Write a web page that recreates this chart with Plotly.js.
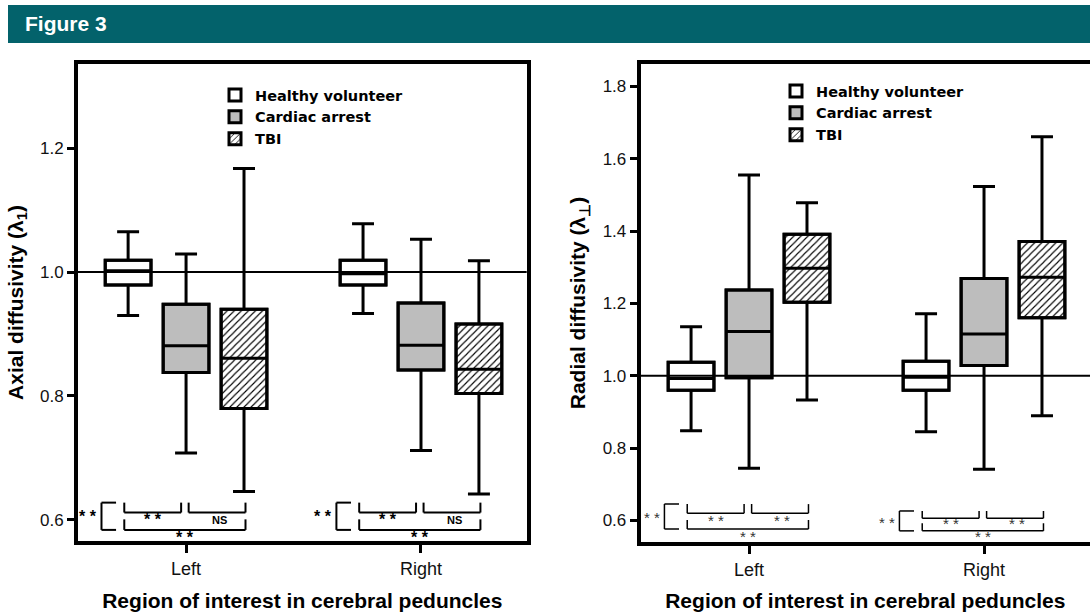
<!DOCTYPE html>
<html>
<head>
<meta charset="utf-8">
<script src="https://cdn.plot.ly/plotly-3.0.1.min.js"></script>
<style>html,body{margin:0;padding:0;background:#fff;}#chart{width:1090px;height:612px;}</style>
</head>
<body>
<div id="chart"></div>
<script>
// ---- data ----
const regions = ['Left', 'Right'];
const groups = ['Healthy volunteer', 'Cardiac arrest', 'TBI'];

// Axial diffusivity (lambda 1)
const axialLower  = [[0.930, 0.933], [0.708, 0.712], [0.646, 0.642]];
const axialQ1     = [[0.979, 0.979], [0.838, 0.842], [0.780, 0.804]];
const axialMedian = [[1.002, 0.997], [0.881, 0.882], [0.861, 0.843]];
const axialQ3     = [[1.019, 1.019], [0.948, 0.950], [0.940, 0.916]];
const axialUpper  = [[1.065, 1.078], [1.029, 1.053], [1.167, 1.018]];

// Radial diffusivity (lambda perpendicular)
const radialLower  = [[0.848, 0.845], [0.744, 0.741], [0.933, 0.889]];
const radialQ1     = [[0.960, 0.960], [0.994, 1.028], [1.203, 1.160]];
const radialMedian = [[0.992, 0.996], [1.122, 1.115], [1.297, 1.272]];
const radialQ3     = [[1.037, 1.040], [1.237, 1.269], [1.391, 1.371]];
const radialUpper  = [[1.135, 1.171], [1.555, 1.523], [1.478, 1.661]];

const axialTicks  = [0.6, 0.8, 1.0, 1.2];
const radialTicks = [0.6, 0.8, 1.0, 1.2, 1.4, 1.6, 1.8];

// significance labels per region: [healthy vs cardiac, cardiac vs TBI, healthy vs TBI, overall]
const axialSig  = [['**', 'NS', '**', '**'], ['**', 'NS', '**', '**']];
const radialSig = [['**', '**', '**', '**'], ['**', '**', '**', '**']];

// ---- styles ----
const fills = ['#ffffff', '#bdbdbd', '#ffffff'];
const patterns = ['', '', '/'];

const traces = [];
function addSet(lo, q1, med, q3, up, xa, ya, legendId) {
  for (let g = 0; g < 3; g++) {
    traces.push({
      type: 'bar', x: regions, base: q1[g],
      y: q3[g].map((v, i) => v - q1[g][i]),
      name: groups[g], xaxis: xa, yaxis: ya, legend: legendId,
      offsetgroup: 'g' + g, alignmentgroup: 'bar' + xa,
      marker: {
        color: fills[g],
        line: {color: '#000', width: 3},
        pattern: {shape: patterns[g], fgcolor: '#000', bgcolor: '#fff', size: 5, solidity: 0.22}
      },
      hoverinfo: 'skip'
    });
  }
  for (let g = 0; g < 3; g++) {
    traces.push({
      type: 'box', x: regions, q1: q1[g], median: med[g], q3: q3[g],
      lowerfence: lo[g], upperfence: up[g],
      xaxis: xa, yaxis: ya, showlegend: false, boxpoints: false,
      offsetgroup: 'g' + g, alignmentgroup: 'box' + xa,
      fillcolor: 'rgba(0,0,0,0)', line: {color: '#000', width: 3},
      whiskerwidth: 0.48, name: groups[g]
    });
  }
}
addSet(axialLower, axialQ1, axialMedian, axialQ3, axialUpper, 'x', 'y', 'legend');
addSet(radialLower, radialQ1, radialMedian, radialQ3, radialUpper, 'x2', 'y2', 'legend2');

const W = 1090, H = 612;
const px = v => v / W, py = v => 1 - v / H;

const shapes = [
  {type: 'rect', xref: 'paper', yref: 'paper', x0: px(8), x1: 1, y0: py(43), y1: py(5),
   fillcolor: '#03626b', line: {width: 0}, layer: 'below'},
  {type: 'line', xref: 'x domain', yref: 'y', x0: 0, x1: 1, y0: 1.0, y1: 1.0,
   line: {color: '#000', width: 2}, layer: 'above'},
  {type: 'line', xref: 'x2 domain', yref: 'y2', x0: 0, x1: 1, y0: 1.0, y1: 1.0,
   line: {color: '#000', width: 2}, layer: 'above'}
];
const annotations = [
  {xref: 'paper', yref: 'paper', x: px(23), y: py(24), xanchor: 'left', yanchor: 'middle',
   text: '<b>Figure 3</b>', showarrow: false,
   font: {family: 'Liberation Sans, Arial, sans-serif', size: 21, color: '#fff'}}
];

// bracket geometry, x offsets in category units
const OFF = {b1: [-0.263, -0.021], b2: [0.011, 0.253], lb: [-0.360, -0.298],
             l1: -0.142, l2: 0.142, l3: -0.005, l4: -0.37};
function brackets(xa, ya, ci, lv, sig, lw, fcolor, fweight, fsize) {
  const ln = (x0, y0, x1, y1) => shapes.push({type: 'line', xref: xa, yref: ya,
      x0: ci + x0, x1: ci + x1, y0: y0, y1: y1, line: {color: '#000', width: lw}});
  [OFF.b1, OFF.b2].forEach(b => {
    ln(b[0], lv.top, b[0], lv.h1);
    ln(b[0], lv.h1, b[1], lv.h1);
    ln(b[1], lv.h1, b[1], lv.top);
  });
  ln(OFF.b1[0], lv.t2, OFF.b1[0], lv.h2);
  ln(OFF.b1[0], lv.h2, OFF.b2[1], lv.h2);
  ln(OFF.b2[1], lv.h2, OFF.b2[1], lv.t2);
  ln(OFF.lb[0], lv.top, OFF.lb[0], lv.h2);
  ln(OFF.lb[0], lv.top, OFF.lb[1], lv.top);
  ln(OFF.lb[0], lv.h2, OFF.lb[1], lv.h2);
  const lab = (x, y, t, anchor, size) => annotations.push({xref: xa, yref: ya, x: ci + x, y: y,
      text: t, showarrow: false, xanchor: anchor, yanchor: 'middle',
      font: {family: 'Arial, Liberation Sans, sans-serif', size: size, color: fcolor, weight: fweight}});
  const t = s => s === '**' ? '* *' : s;
  const sz = s => s === '**' ? fsize : 11;
  lab(OFF.l1, lv.r1, t(sig[0]), 'center', sz(sig[0]));
  lab(OFF.l2, lv.r1, t(sig[1]), 'center', sz(sig[1]));
  lab(OFF.l3, lv.r2, t(sig[2]), 'center', sz(sig[2]));
  lab(OFF.l4, lv.rl, t(sig[3]), 'right', sz(sig[3]));
}
const axLv = {top: 0.628, h1: 0.612, t2: 0.601, h2: 0.584, r1: 0.600, r2: 0.571, rl: 0.606};
brackets('x', 'y', 0, axLv, axialSig[0], 2, '#000', 'bold', 16);
brackets('x', 'y', 1, axLv, axialSig[1], 2, '#000', 'bold', 16);
brackets('x2', 'y2', 0, {top: 0.645, h1: 0.620, t2: 0.601, h2: 0.576, r1: 0.599, r2: 0.556, rl: 0.608},
         radialSig[0], 1.5, '#333', 'normal', 15);
brackets('x2', 'y2', 1, {top: 0.626, h1: 0.606, t2: 0.592, h2: 0.571, r1: 0.591, r2: 0.556, rl: 0.594},
         radialSig[1], 1.5, '#333', 'normal', 15);

const tickFont = {family: 'Arial, Liberation Sans, sans-serif', size: 17, color: '#111'};
const xTickFont = {family: 'Arial, Liberation Sans, sans-serif', size: 18, color: '#111'};
const titleFont = {family: 'Arial, Liberation Sans, sans-serif', size: 21, color: '#000', weight: 'bold'};
const xTitle = {text: 'Region of interest in cerebral peduncles', font: titleFont, standoff: 20};

function xAxis(domain, range, anchor) {
  return {domain: domain, anchor: anchor, type: 'category', categoryarray: regions, range: range,
    showline: true, linewidth: 4, linecolor: '#000',
    mirror: true, ticks: 'outside', ticklen: 8, tickwidth: 3, tickcolor: '#000',
    tickfont: xTickFont, showgrid: false, zeroline: false, title: xTitle, fixedrange: true};
}
function yAxis(domain, range, tickv, titleText, anchor, mirror) {
  return {domain: domain, range: range, anchor: anchor, showline: true, linewidth: 4, linecolor: '#000',
    mirror: mirror, ticks: 'outside', ticklen: 7, tickwidth: 3, tickcolor: '#000',
    tickvals: tickv, ticktext: tickv.map(v => v.toFixed(1)), tickfont: tickFont,
    showgrid: false, zeroline: false, fixedrange: true,
    title: {text: titleText, font: titleFont, standoff: 12}};
}

const legendFont = {family: 'DejaVu Sans, Verdana, sans-serif', size: 14.5, color: '#000', weight: 'bold'};
const layout = {
  width: W, height: H,
  margin: {l: 0, r: 0, t: 0, b: 0},
  paper_bgcolor: '#fff', plot_bgcolor: '#fff',
  barmode: 'group', bargap: 0.26, bargroupgap: 0.21,
  boxmode: 'group', boxgap: 0.26, boxgroupgap: 0.21,
  xaxis: xAxis([px(78), px(526.7)], [-0.46, 1.45], 'y'),
  yaxis: yAxis([py(541), py(64)], [0.5661, 1.3355], axialTicks, 'Axial diffusivity (λ<sub>1</sub>)', 'x', true),
  xaxis2: xAxis([px(640.7), 1], [-0.461, 1.451], 'y2'),
  yaxis2: yAxis([py(542), py(64)], [0.5402, 1.8618], radialTicks, 'Radial diffusivity (λ<sub>⊥</sub>)', 'x2', false),
  legend: {x: px(215), y: py(79), xanchor: 'left', yanchor: 'top', bgcolor: 'rgba(0,0,0,0)',
           font: legendFont, traceorder: 'normal'},
  legend2: {x: px(776), y: py(75), xanchor: 'left', yanchor: 'top', bgcolor: 'rgba(0,0,0,0)',
           font: legendFont, traceorder: 'normal'},
  shapes: shapes,
  annotations: annotations,
  showlegend: true
};

Plotly.newPlot('chart', traces, layout, {displayModeBar: false, staticPlot: true});
</script>
</body>
</html>
